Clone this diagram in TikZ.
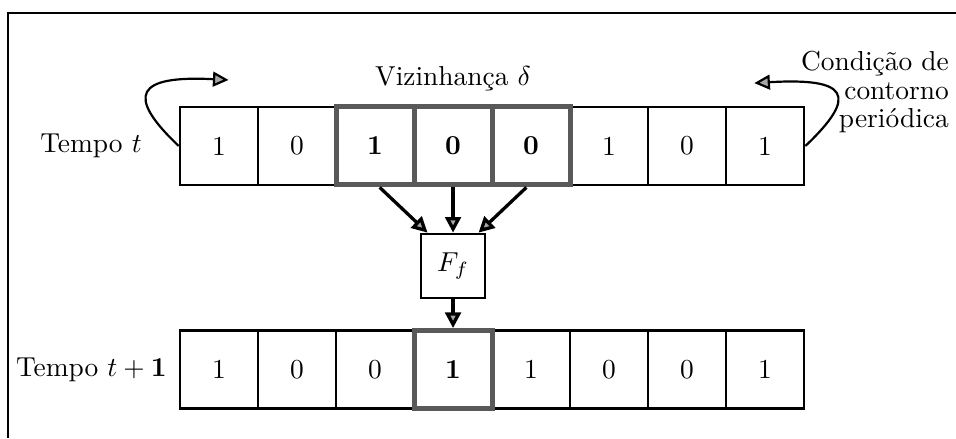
\documentclass[tikz,border=0pt]{standalone}
\usepackage{amsmath}
\usetikzlibrary{arrows.meta,positioning}

\begin{document}
\begin{tikzpicture}[
  cell/.style={draw, line width=1pt, minimum size=1cm, inner sep=0pt},
  nbcell/.style={draw=gray!70!black, line width=1.8pt, minimum size=1cm, inner sep=0pt, font=\bfseries},
  flow/.style={-{Triangle[length=0.2cm, width=0.2cm, fill=gray!70]}, line width=1.2pt},
  wrap/.style={-{Triangle[length=0.2cm, width=0.19cm, fill=gray!70]}, line width=0.8pt}
]
  \useasboundingbox (0,0) rectangle (12.256,5.615);

  % Open frame (top and left edges)
  \draw[thick] (0.103,0) -- (0.103,5.449) -- (12.256,5.449);

  % Row at time t
  \node[cell] (t1) at (2.808,3.744) {1};
  \node[cell] (t2) at (3.808,3.744) {0};
  \node[cell] (t6) at (7.808,3.744) {1};
  \node[cell] (t7) at (8.808,3.744) {0};
  \node[cell] (t8) at (9.808,3.744) {1};
  % neighbourhood cells
  \node[nbcell] (t3) at (4.808,3.744) {1};
  \node[nbcell] (t4) at (5.808,3.744) {0};
  \node[nbcell] (t5) at (6.808,3.744) {0};

  % Row at time t+1
  \node[cell] (d1) at (2.808,0.878) {1};
  \node[cell] (d2) at (3.808,0.878) {0};
  \node[cell] (d3) at (4.808,0.878) {0};
  \node[cell] (d5) at (6.808,0.878) {1};
  \node[cell] (d6) at (7.808,0.878) {0};
  \node[cell] (d7) at (8.808,0.878) {0};
  \node[cell] (d8) at (9.808,0.878) {1};
  \node[nbcell] (d4) at (5.808,0.878) {1};

  % Local rule
  \node[cell, minimum size=0.82cm] (Ff) at (5.808,2.205) {$F_f$};

  \draw[flow] ([xshift=0.06cm]t3.south) -- ([xshift=0.1cm]Ff.north west);
  \draw[flow] (t4.south) -- (Ff.north);
  \draw[flow] ([xshift=-0.06cm]t5.south) -- ([xshift=-0.1cm]Ff.north east);
  \draw[flow] (Ff.south) -- (d4.north);

  % Periodic boundary arrows
  \coordinate (lw) at (2.93,4.59);
  \coordinate (rw) at (9.67,4.55);
  \draw[wrap] (t1.west) .. controls (1.6,4.4) and (1.75,4.65) .. (lw);
  \draw[wrap] (t8.east) .. controls (11.016,4.4) and (10.866,4.62) .. (rw);

  % Labels
  \node[left=0.35cm of t1] (lt) {Tempo $t$};
  \node[left=0.03cm of d1] (ld) {Tempo $t\mathbin{+}\mathbf{1}$};
  \node[above=0.05cm of t4] (nb) {Vizinhança $\delta$};
  \node[anchor=east, align=right, inner sep=0pt] (cc) at (12.17,4.43)
    {Condição de\\[-1.6pt]contorno\\[-1.6pt]periódica};
\end{tikzpicture}
\end{document}
